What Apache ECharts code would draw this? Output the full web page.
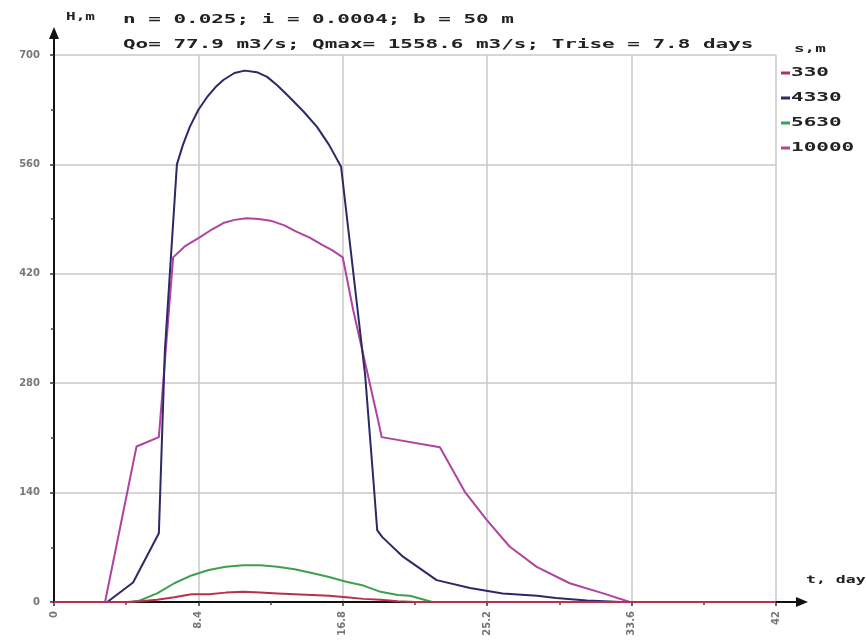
<!DOCTYPE html>
<html>
<head>
<meta charset="utf-8">
<script src="https://cdn.jsdelivr.net/npm/echarts@6/dist/echarts.min.js"></script>
<style>
  html, body { margin: 0; padding: 0; background: #fff; }
  #main { width: 866px; height: 644px; }
</style>
</head>
<body>
<div id="main"></div>
<script>
// series names (distance s, m) and colours
const seriesNames = ['330', '4330', '5630', '10000'];
const seriesColors = ['#b8304c', '#2a2a66', '#3ca04c', '#b043a0'];

// t, days / H, m
const t330 = [0, 4.2, 5, 6, 7, 8, 9, 10, 11, 12, 13, 14, 15, 16, 17, 18, 19, 20, 21, 42];
const h330 = [0, 0, 1, 3, 6, 10, 10, 12, 13, 12, 11, 10, 9, 8, 6, 4, 3, 1, 0, 0];

const t4330 = [0, 3.1, 4.6, 6.1, 6.45, 7.15, 7.5, 7.9, 8.4, 8.9, 9.4, 9.85, 10.5, 11.1, 11.8, 12.4, 13.0, 13.7, 14.5, 15.3, 16.0, 16.7,
    18.1, 18.6, 18.8, 19.1, 20.3, 22.26, 24.2, 26.1, 28.1, 29.2, 31.0, 33.0, 42];
const h4330 = [0, 0, 25, 88, 322, 560, 585, 608, 630, 646, 659, 668, 677, 680, 678, 672, 661, 646, 628, 608, 585, 557,
    290, 150, 92, 83, 58, 28, 18, 11, 8, 5, 2, 0, 0];

const t5630 = [0, 4.5, 5, 6, 7, 8, 9, 10, 11, 12, 13, 14, 15, 16, 17, 18, 19, 20, 20.7, 22, 42];
const h5630 = [0, 0, 2, 11, 24, 34, 41, 45, 47, 47, 45, 42, 37, 32, 26, 21, 13, 9, 8, 0, 0];

const t10000 = [0, 2.97, 4.8, 6.1, 6.93, 7.6, 8.5, 9.2, 9.85, 10.5, 11.2, 11.9, 12.6, 13.4, 14.1, 14.9, 15.6, 16.2, 16.8,
    17.4, 18.85, 19.06, 22.45, 23.9, 25.17, 26.5, 28.08, 30.0, 31.95, 33.5, 42];
const h10000 = [0, 0, 199, 211, 441, 455, 467, 477, 485, 489, 491, 490, 488, 482, 474, 466, 457, 450, 441,
    374, 233, 211, 198, 141, 105, 71, 45, 24, 11, 0, 0];

const xTicks = [0, 8.4, 16.8, 25.2, 33.6, 42];
const yTicks = [0, 140, 280, 420, 560, 700];

const titleLine1 = 'n = 0.025; i = 0.0004; b = 50 m';
const titleLine2 = 'Qo= 77.9 m3/s; Qmax= 1558.6 m3/s; Trise = 7.8 days';

const MONO = '"DejaVu Sans Mono", "Liberation Mono", monospace';

function zip(ts, hs) {
    return ts.map(function (t, i) { return [t, hs[i]]; });
}

const seriesData = [zip(t330, h330), zip(t4330, h4330), zip(t5630, h5630), zip(t10000, h10000)];
const seriesZ = [6, 4, 5, 3];

const chart = echarts.init(document.getElementById('main'));

const option = {
    animation: false,
    backgroundColor: '#fff',
    grid: { left: 54, right: 90, top: 55, bottom: 42 },
    xAxis: {
        type: 'value',
        min: xTicks[0],
        max: xTicks[xTicks.length - 1],
        interval: 8.4,
        axisLine: { show: true, onZero: false, lineStyle: { color: '#111', width: 2 } },
        axisTick: { show: true, length: 4, lineStyle: { color: '#333', width: 1.5 } },
        minorTick: { show: true, splitNumber: 2, length: 3, lineStyle: { color: '#444', width: 1.5 } },
        axisLabel: {
            rotate: 90, margin: 9, color: '#777', fontSize: 10, fontWeight: 'bold', fontFamily: 'DejaVu Sans',
            formatter: function (v) { return String(Math.round(v * 10) / 10); }
        },
        splitLine: { show: true, lineStyle: { color: '#c9c9c9', width: 1.5 } }
    },
    yAxis: {
        type: 'value',
        min: yTicks[0],
        max: yTicks[yTicks.length - 1],
        interval: 140,
        axisLine: { show: true, onZero: false, lineStyle: { color: '#111', width: 2 } },
        axisTick: { show: true, length: 4, lineStyle: { color: '#333', width: 1.5 } },
        minorTick: { show: true, splitNumber: 2, length: 3, lineStyle: { color: '#444', width: 1.5 } },
        axisLabel: { margin: 14, color: '#777', fontSize: 10, fontWeight: 'bold', fontFamily: 'DejaVu Sans' },
        splitLine: { show: true, lineStyle: { color: '#c9c9c9', width: 1.5 } }
    },
    series: seriesNames.map(function (name, i) {
        return {
            name: name,
            type: 'line',
            data: seriesData[i],
            showSymbol: false,
            z: seriesZ[i],
            lineStyle: { color: seriesColors[i], width: 2 },
            itemStyle: { color: seriesColors[i] }
        };
    })
};

chart.setOption(option);

// axis arrows, titles, legend
const xEnd = chart.convertToPixel({ gridIndex: 0 }, [42, 0]);
const yEnd = chart.convertToPixel({ gridIndex: 0 }, [0, 700]);

function monoText(x, y, text, size, scaleX, color) {
    return {
        type: 'text', x: x, y: y, scaleX: scaleX, z: 20,
        style: { text: text, font: 'bold ' + size + 'px ' + MONO, fill: color || '#222', verticalAlign: 'middle', textVerticalAlign: 'middle' }
    };
}

const graphics = [
    { type: 'line', z: 10, shape: { x1: xEnd[0], y1: xEnd[1], x2: xEnd[0] + 22, y2: xEnd[1] }, style: { stroke: '#111', lineWidth: 2 } },
    { type: 'polygon', z: 10, shape: { points: [[xEnd[0] + 32, xEnd[1]], [xEnd[0] + 20, xEnd[1] - 5], [xEnd[0] + 20, xEnd[1] + 5]] }, style: { fill: '#111' } },
    { type: 'line', z: 10, shape: { x1: yEnd[0], y1: yEnd[1], x2: yEnd[0], y2: yEnd[1] - 18 }, style: { stroke: '#111', lineWidth: 2 } },
    { type: 'polygon', z: 10, shape: { points: [[yEnd[0], yEnd[1] - 28], [yEnd[0] - 5, yEnd[1] - 16], [yEnd[0] + 5, yEnd[1] - 16]] }, style: { fill: '#111' } },
    monoText(66, 17, 'H,m', 10, 1.6),
    monoText(123, 20, titleLine1, 12, 1.745),
    monoText(123, 45, titleLine2, 12, 1.745),
    monoText(806, 580, 't, day', 11, 1.5),
    monoText(794, 49, 's,m', 11, 1.6)
];

seriesNames.forEach(function (name, i) {
    const y = 73 + i * 25;
    graphics.push({ type: 'rect', z: 20, shape: { x: 781, y: y - 1.5, width: 9, height: 3 }, style: { fill: seriesColors[i] } });
    graphics.push(monoText(791, y, name, 12, 1.75));
});

chart.setOption({ graphic: graphics });
</script>
</body>
</html>
